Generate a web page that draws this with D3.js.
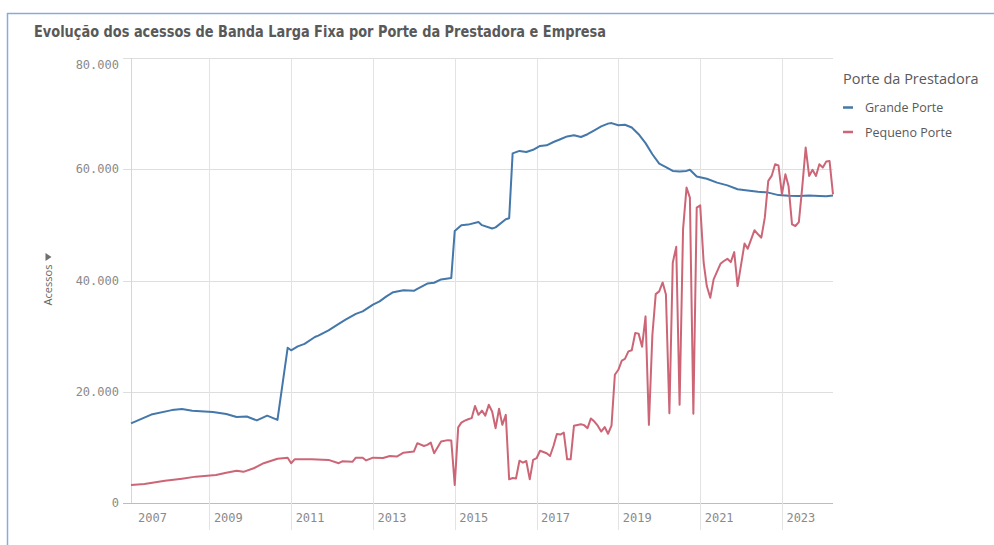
<!DOCTYPE html>
<html>
<head>
<meta charset="utf-8">
<script src="https://cdn.jsdelivr.net/npm/d3@7/dist/d3.min.js"></script>
<style>
  html, body { margin: 0; padding: 0; background: #ffffff; }
  svg { display: block; }
</style>
</head>
<body>
<svg id="chart" width="994" height="545"></svg>
<script>
// ---------------- DATA ----------------
const chartTitle = "Evolução dos acessos de Banda Larga Fixa por Porte da Prestadora e Empresa";
const legendTitle = "Porte da Prestadora";
const seriesNames = ["Grande Porte", "Pequeno Porte"];
const yAxisTitle = "Acessos";
const yTickValues = [0, 20000, 40000, 60000, 80000];
const xTickYears = [2007, 2009, 2011, 2013, 2015, 2017, 2019, 2021, 2023];

const grandeDates = [
  "2007-02","2007-08","2008-02","2008-05","2008-08","2009-02","2009-06","2009-09","2009-12","2010-03",
  "2010-06","2010-09","2010-12","2011-01","2011-03","2011-05","2011-08","2011-09","2011-12","2012-03",
  "2012-05","2012-08","2012-10","2013-01","2013-03","2013-05","2013-07","2013-10","2014-01","2014-02",
  "2014-05","2014-07","2014-09","2014-12","2015-01","2015-03","2015-05","2015-08","2015-09","2015-12",
  "2016-01","2016-04","2016-05","2016-06","2016-08","2016-10","2016-12","2017-02","2017-04","2017-06",
  "2017-08","2017-10","2017-12","2018-02","2018-04","2018-06","2018-08","2018-10","2018-11","2019-01",
  "2019-03","2019-05","2019-07","2019-09","2019-11","2020-01","2020-03","2020-05","2020-07","2020-09",
  "2020-10","2020-12","2021-03","2021-06","2021-09","2021-12","2022-03","2022-06","2022-09","2022-12",
  "2023-03","2023-06","2023-09","2023-12","2024-02","2024-04"
];
const grandeValues = [
  14300,15900,16700,16880,16600,16350,16000,15450,15560,14850,
  15700,14950,27900,27450,28150,28600,29850,30100,31050,32200,
  32950,34000,34450,35650,36250,37150,37900,38250,38150,38500,
  39450,39600,40200,40450,48900,49950,50050,50500,49950,49350,
  49550,51000,51200,62850,63300,63100,63500,64200,64300,64900,
  65400,65900,66100,65800,66300,67000,67700,68200,68300,67900,
  68000,67500,66300,64700,62700,61000,60400,59700,59600,59700,
  59900,58700,58300,57600,57100,56400,56200,55950,55800,55350,
  55250,55200,55300,55200,55150,55300
];

const pequenoDates = [
  "2007-02","2007-06","2007-12","2008-05","2008-09","2009-03","2009-06","2009-09","2009-11","2010-02",
  "2010-05","2010-09","2010-12","2011-01","2011-02","2011-07","2011-12","2012-03","2012-04","2012-07",
  "2012-08","2012-10","2012-11","2013-01","2013-04","2013-06","2013-08","2013-10","2014-01","2014-02",
  "2014-04","2014-05","2014-06","2014-07","2014-09","2014-11","2014-12","2015-01","2015-02","2015-03",
  "2015-04","2015-05","2015-06","2015-07","2015-08","2015-09","2015-10","2015-11","2015-12","2016-01",
  "2016-02","2016-03","2016-04","2016-05","2016-06","2016-07","2016-08","2016-09","2016-10","2016-11",
  "2016-12","2017-01","2017-02","2017-04","2017-05","2017-06","2017-07","2017-08","2017-09","2017-10",
  "2017-11","2017-12","2018-02","2018-03","2018-04","2018-05","2018-06","2018-07","2018-08","2018-09",
  "2018-10","2018-11","2018-12","2019-01","2019-02","2019-03","2019-04","2019-05","2019-06","2019-07",
  "2019-08","2019-09","2019-10","2019-11","2019-12","2020-01","2020-02","2020-03","2020-04","2020-05",
  "2020-06","2020-07","2020-08","2020-09","2020-10","2020-11","2020-12","2021-01","2021-02","2021-03",
  "2021-04","2021-05","2021-07","2021-08","2021-09","2021-10","2021-11","2021-12","2022-02","2022-03",
  "2022-05","2022-06","2022-07","2022-08","2022-09","2022-10","2022-11","2022-12","2023-01","2023-02",
  "2023-03","2023-04","2023-05","2023-06","2023-07","2023-08","2023-09","2023-10","2023-11","2023-12",
  "2024-01","2024-02","2024-03","2024-04"
];
const pequenoValues = [
  3250,3420,4000,4380,4740,5050,5450,5800,5600,6250,
  7150,7950,8150,7150,7850,7850,7750,7150,7500,7400,
  8150,8150,7650,8150,8100,8450,8350,9050,9250,10750,
  10250,10450,10850,8950,11050,11300,11250,3250,13600,14450,
  14800,15050,15250,17450,15850,16600,15700,17650,16450,13450,
  16950,14050,15850,4250,4500,4400,7600,7250,7550,4250,
  7750,8050,9400,8950,8450,10250,12400,12300,12650,7850,
  7850,13900,14150,14000,13450,15200,14650,13900,12850,13650,
  12450,13900,23050,23950,25600,25900,27250,27450,30550,30450,
  28100,33550,14050,30200,37550,38050,39650,37500,16150,43200,
  46050,17650,49200,56700,54900,16050,53100,53500,43200,39000,
  36900,40200,43000,43500,43900,43300,45100,39000,46650,45700,
  49050,48300,47700,51300,57900,58800,60900,60700,55500,59100,
  57000,50100,49800,50500,56700,63900,58800,59900,58800,60900,
  60300,61400,61500,55500
];

const seriesColors = ["#4477aa", "#cc6677"];

// ---------------- DRAW ----------------
const svg = d3.select("#chart");
const parse = d3.timeParse("%Y-%m");
const plot = { left: 131, right: 833, top: 58, bottom: 503 };

const grande = grandeDates.map((d, i) => ({ date: parse(d), value: grandeValues[i] }));
const pequeno = pequenoDates.map((d, i) => ({ date: parse(d), value: pequenoValues[i] }));

const allDates = grande.map(d => d.date).concat(pequeno.map(d => d.date));
const x = d3.scaleTime().domain(d3.extent(allDates)).range([plot.left, plot.right]);
const y = d3.scaleLinear().domain([0, 80000]).range([plot.bottom, plot.top]);

const loc = d3.formatLocale({ decimal: ",", thousands: ".", grouping: [3], currency: ["", ""] });
const fmt = loc.format(",");

// frame border
svg.append("line").attr("x1", 7).attr("x2", 994).attr("y1", 13.5).attr("y2", 13.5)
  .attr("stroke", "#86acd9").attr("stroke-width", 1.5);
svg.append("line").attr("x1", 7.5).attr("x2", 7.5).attr("y1", 13).attr("y2", 545)
  .attr("stroke", "#86acd9").attr("stroke-width", 1.5);

// title
svg.append("text")
  .attr("x", 34).attr("y", 37)
  .attr("font-family", "'Liberation Sans Narrow', 'DejaVu Sans Condensed', 'Roboto', sans-serif")
  .attr("font-weight", "bold").attr("font-size", 15)
  .attr("fill", "#595959")
  .attr("textLength", 572).attr("lengthAdjust", "spacingAndGlyphs")
  .text(chartTitle);

// horizontal gridlines + y ticks
const gGrid = svg.append("g");
yTickValues.forEach(v => {
  gGrid.append("line")
    .attr("x1", plot.left - 8).attr("x2", plot.right)
    .attr("y1", Math.round(y(v)) + 0.5).attr("y2", Math.round(y(v)) + 0.5)
    .attr("stroke", v === 0 ? "#bdbdbd" : "#dedede").attr("stroke-width", 1);
});

// vertical year gridlines
xTickYears.forEach(yr => {
  const xx = x(new Date(yr, 0, 1));
  if (xx >= plot.left && xx <= plot.right) {
    gGrid.append("line")
      .attr("x1", Math.round(xx) + 0.5).attr("x2", Math.round(xx) + 0.5)
      .attr("y1", plot.top).attr("y2", 530)
      .attr("stroke", "#e3e3e3").attr("stroke-width", 1);
  }
});

// left axis line
gGrid.append("line")
  .attr("x1", plot.left + 0.5).attr("x2", plot.left + 0.5)
  .attr("y1", plot.top).attr("y2", plot.bottom)
  .attr("stroke", "#d6d6d6").attr("stroke-width", 1);

// y labels
const monoFont = "'DejaVu Sans Mono', 'Liberation Mono', monospace";
yTickValues.forEach(v => {
  svg.append("text")
    .attr("x", 119).attr("y", y(v) + (v === 80000 ? 7 : 0))
    .attr("text-anchor", "end").attr("dominant-baseline", "central")
    .attr("font-family", monoFont).attr("font-size", 12)
    .attr("fill", "#8a8a8a")
    .text(fmt(v));
});

// x labels
xTickYears.forEach(yr => {
  const xx = x(new Date(yr, 0, 1));
  svg.append("text")
    .attr("x", Math.max(xx + 4.5, 138)).attr("y", 518)
    .attr("dominant-baseline", "central")
    .attr("font-family", monoFont).attr("font-size", 12)
    .attr("fill", "#8a8a8a")
    .text(yr);
});

// y axis title with dropdown triangle
svg.append("text")
  .attr("transform", "translate(52,285) rotate(-90)")
  .attr("text-anchor", "middle")
  .attr("font-family", "'Open Sans', 'DejaVu Sans', sans-serif").attr("font-size", 11)
  .attr("fill", "#666666")
  .text(yAxisTitle);
svg.append("path")
  .attr("d", "M45.5,253 L51.5,257 L45.5,261 Z")
  .attr("fill", "#6f6f6f");

// lines
const line = d3.line().x(d => x(d.date)).y(d => y(d.value));
[grande, pequeno].forEach((s, i) => {
  svg.append("path")
    .datum(s)
    .attr("fill", "none")
    .attr("stroke", seriesColors[i])
    .attr("stroke-width", 2)
    .attr("stroke-linejoin", "round")
    .attr("d", line);
});

// legend
const legFont = "'Open Sans', 'Noto Sans', sans-serif";
svg.append("text")
  .attr("x", 843).attr("y", 78).attr("dominant-baseline", "central")
  .attr("font-family", legFont).attr("font-size", 14.5).attr("fill", "#595959")
  .text(legendTitle);
seriesNames.forEach((n, i) => {
  const yy = 107.5 + i * 24.5;
  svg.append("line")
    .attr("x1", 843).attr("x2", 853).attr("y1", yy).attr("y2", yy)
    .attr("stroke", seriesColors[i]).attr("stroke-width", 2.5);
  svg.append("text")
    .attr("x", 865).attr("y", yy).attr("dominant-baseline", "central")
    .attr("font-family", legFont).attr("font-size", 12.5).attr("fill", "#595959")
    .text(n);
});
</script>
</body>
</html>
